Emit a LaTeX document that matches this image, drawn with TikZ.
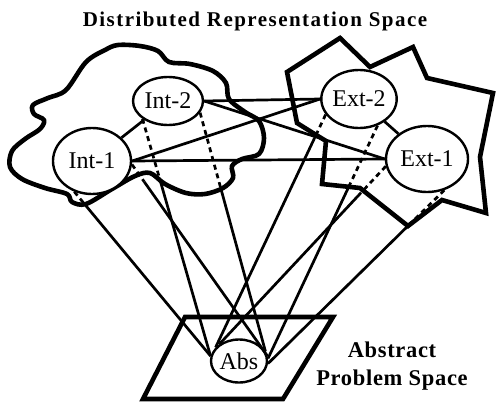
\documentclass[tikz,border=0pt]{standalone}
\usepackage{fontspec}
\setmainfont{Liberation Serif}
\usetikzlibrary{calc,shapes.geometric}
\begin{document}
\begin{tikzpicture}[x=1pt,y=-1pt,
  shapeline/.style={line width=4.6pt, line join=round, line cap=round},
  nd/.style={ellipse, draw, line width=2.4pt, fill=white, inner sep=0pt, font=\fontsize{24}{24}\selectfont},
  conn/.style={line width=2.7pt},
  hid/.style={line width=2.7pt, dash pattern=on 5pt off 4pt},
  lbl/.style={font=\fontsize{22.5}{24}\selectfont\bfseries\addfontfeature{LetterSpace=3}, anchor=base},
  ttl/.style={font=\fontsize{21}{22}\selectfont\bfseries\addfontfeature{LetterSpace=7}, anchor=base}
]
\useasboundingbox (0,0) rectangle (502,404);
% left cloud
\draw[shapeline] plot[smooth cycle, tension=0.55] coordinates {
 (118,45) (140,46) (158,51) (169,62) (190,64) (213,71) (226,83) (229,99) (245,112)
 (259,121) (264,138) (259,154) (242,159) (232,166) (233,178) (223,188) (205,194)
 (186,193) (165,184) (150,173) (135,176) (112,189) (86,204) (72,202) (67,194)
 (45,188) (22,179) (10,167) (12,151) (25,139) (40,129) (44,120) (34,114) (33,105)
 (48,98) (66,90) (86,62) (105,50)};
% right star
\draw[shapeline, line join=miter] (287,72) -- (340,38) -- (370,67) -- (413,47) -- (427,78)
 -- (493,93) -- (480,157) -- (486,213) -- (442,200) -- (408,226) -- (360,188)
 -- (322,184) -- (326,141) -- (313,133) -- (297,123) -- cycle;
% abstract problem space
\draw[shapeline, line join=miter] (185,317) -- (333,317) -- (283,399) -- (143,399) -- cycle;

% nodes
\node[nd, minimum width=78pt, minimum height=66pt] (Int1) at (92,161) {Int-1};
\node[nd, minimum width=70pt, minimum height=48pt] (Int2) at (168,101) {Int-2};
\node[nd, minimum width=68pt, minimum height=58pt] (Ext2) at (359,99) {Ext-2};
\node[nd, minimum width=82pt, minimum height=66pt] (Ext1) at (427,159) {Ext-1};

% connectors between representations
\draw[conn] (Int1) -- (Int2);
\draw[conn] (Ext2) -- (Ext1);
\draw[conn] (Int2.east) -- (Ext2.west);
\draw[conn] (Int2.east) -- (Ext1.west);
\draw[conn] (Int1.east) -- (Ext2.west);
\draw[conn] (Int1.east) -- (Ext1.west);

\node[nd, minimum width=56pt, minimum height=43pt] (Abs) at (239,361) {Abs};

% projection lines to Abs
\draw[hid] (Int1.240) -- ($(Int1.240)!0.08!(Abs.170)$) coordinate (p1);
\draw[conn] (p1) -- (Abs.170);
\draw[hid] (Int1.355) -- ($(Int1.355)!0.09!(Abs.10)$) coordinate (p2);
\draw[conn] (p2) -- (Abs.10);
\draw[hid] (Int2.215) -- ($(Int2.215)!0.26!(Abs.170)$) coordinate (p3);
\draw[conn] (p3) -- (Abs.170);
\draw[hid] (Int2.340) -- ($(Int2.340)!0.32!(Abs.20)$) coordinate (p4);
\draw[conn] (p4) -- (Abs.20);
\draw[hid] (Ext2.205) -- ($(Ext2.205)!0.10!(Abs.150)$) coordinate (p5);
\draw[conn] (p5) -- (Abs.150);
\draw[hid] (Ext2.305) -- ($(Ext2.305)!0.27!(Abs.5)$) coordinate (p6);
\draw[conn] (p6) -- (Abs.5);
\draw[hid] (Ext1.190) -- ($(Ext1.190)!0.15!(Abs.140)$) coordinate (p7);
\draw[conn] (p7) -- (Abs.140);
\draw[hid] (Ext1.299) -- ($(Ext1.299)!0.21!(Abs.355)$) coordinate (p8);
\draw[conn] (p8) -- (Abs.355);

% labels
\node[ttl] (title) at (255,27) {Distributed Representation Space};
\node[lbl] (aps1) at (392,357) {Abstract};
\node[lbl] (aps2) at (392,385) {Problem Space};
\end{tikzpicture}
\end{document}
